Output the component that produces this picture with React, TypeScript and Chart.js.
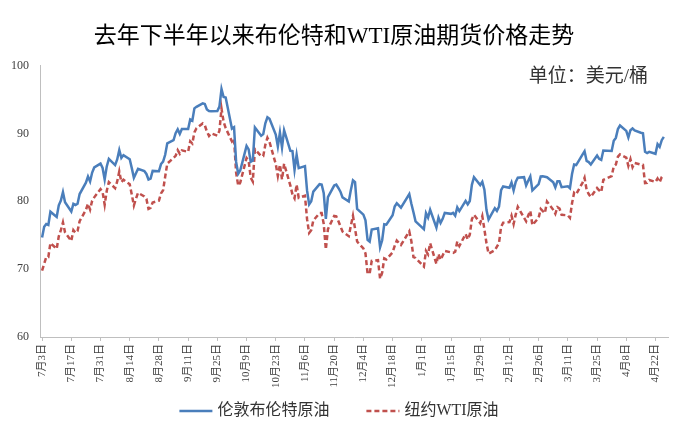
import React, { useEffect, useRef } from "react";
import { Chart, registerables } from "chart.js";

Chart.register(...registerables);

const FONT = "'Liberation Serif', 'Noto Sans CJK SC', serif";

const titleText = "去年下半年以来布伦特和WTI原油期货价格走势";
const unitText = "单位：美元/桶";
const seriesNames = ["伦敦布伦特原油", "纽约WTI原油"];

const tickLabels = [
  "7月3日", "7月17日", "7月31日", "8月14日", "8月28日", "9月11日", "9月25日",
  "10月9日", "10月23日", "11月6日", "11月20日", "12月4日", "12月18日",
  "1月1日", "1月15日", "1月29日", "2月12日", "2月26日", "3月11日", "3月25日",
  "4月8日", "4月22日",
];

const yTicks = [60, 70, 80, 90, 100];

// trading days (month-day); Jul-Dec are 2023, Jan-Apr are 2024
const dates = [
  "07-03", "07-04", "07-05", "07-06", "07-07",
  "07-10", "07-11", "07-12", "07-13", "07-14",
  "07-17", "07-18", "07-19", "07-20", "07-21",
  "07-24", "07-25", "07-26", "07-27", "07-28",
  "07-31", "08-01", "08-02", "08-03", "08-04",
  "08-07", "08-08", "08-09", "08-10", "08-11",
  "08-14", "08-15", "08-16", "08-17", "08-18",
  "08-21", "08-22", "08-23", "08-24", "08-25",
  "08-28", "08-29", "08-30", "08-31", "09-01",
  "09-04", "09-05", "09-06", "09-07", "09-08",
  "09-11", "09-12", "09-13", "09-14", "09-15",
  "09-18", "09-19", "09-20", "09-21", "09-22",
  "09-25", "09-26", "09-27", "09-28", "09-29",
  "10-02", "10-03", "10-04", "10-05", "10-06",
  "10-09", "10-10", "10-11", "10-12", "10-13",
  "10-16", "10-17", "10-18", "10-19", "10-20",
  "10-23", "10-24", "10-25", "10-26", "10-27",
  "10-30", "10-31", "11-01", "11-02", "11-03",
  "11-06", "11-07", "11-08", "11-09", "11-10",
  "11-13", "11-14", "11-15", "11-16", "11-17",
  "11-20", "11-21", "11-22", "11-23", "11-24",
  "11-27", "11-28", "11-29", "11-30", "12-01",
  "12-04", "12-05", "12-06", "12-07", "12-08",
  "12-11", "12-12", "12-13", "12-14", "12-15",
  "12-18", "12-19", "12-20", "12-21", "12-22",
  "12-25", "12-26", "12-27", "12-28", "12-29",
  "01-01", "01-02", "01-03", "01-04", "01-05",
  "01-08", "01-09", "01-10", "01-11", "01-12",
  "01-15", "01-16", "01-17", "01-18", "01-19",
  "01-22", "01-23", "01-24", "01-25", "01-26",
  "01-29", "01-30", "01-31", "02-01", "02-02",
  "02-05", "02-06", "02-07", "02-08", "02-09",
  "02-12", "02-13", "02-14", "02-15", "02-16",
  "02-19", "02-20", "02-21", "02-22", "02-23",
  "02-26", "02-27", "02-28", "02-29", "03-01",
  "03-04", "03-05", "03-06", "03-07", "03-08",
  "03-11", "03-12", "03-13", "03-14", "03-15",
  "03-18", "03-19", "03-20", "03-21", "03-22",
  "03-25", "03-26", "03-27", "03-28", "03-29",
  "04-01", "04-02", "04-03", "04-04", "04-05",
  "04-08", "04-09", "04-10", "04-11", "04-12",
  "04-15", "04-16", "04-17", "04-18", "04-19",
  "04-22", "04-23", "04-24", "04-25", "04-26",
];

const brent = [
  74.65, 76.25, 76.65, 76.52, 78.47,
  77.69, 79.40, 80.11, 81.36, 79.87,
  78.50, 79.63, 79.46, 79.64, 81.07,
  82.74, 83.64, 82.92, 84.24, 84.99,
  85.56, 84.91, 83.20, 85.14, 86.24,
  85.34, 86.17, 87.55, 86.40, 86.81,
  86.21, 84.89, 83.45, 84.12, 84.80,
  84.46, 84.03, 83.21, 83.36, 84.48,
  84.42, 85.49, 85.86, 86.86, 88.55,
  89.00, 90.04, 90.60, 89.92, 90.65,
  90.64, 92.06, 91.88, 93.70, 93.93,
  94.43, 94.34, 93.53, 93.30, 93.27,
  93.29, 93.96, 96.55, 95.38, 95.31,
  90.71, 90.92, 85.81, 84.07, 84.58,
  88.15, 87.65, 85.82, 86.00, 90.89,
  89.65, 89.90, 91.50, 92.38, 92.16,
  89.83, 88.07, 90.13, 87.93, 90.48,
  87.45, 87.41, 84.63, 86.85, 84.89,
  85.18, 81.61, 79.54, 80.01, 81.43,
  82.52, 82.47, 81.18, 77.42, 80.61,
  82.32, 82.45, 81.96, 81.42, 80.58,
  79.98, 81.68, 83.10, 82.83, 78.88,
  78.03, 77.20, 74.30, 74.05, 75.84,
  76.03, 73.24, 74.26, 76.61, 76.55,
  77.95, 79.23, 79.70, 79.39, 79.07,
  null, 81.07, 79.65, 78.39, 77.04,
  null, 75.89, 78.25, 77.59, 78.76,
  76.12, 77.59, 76.80, 77.41, 78.29,
  78.15, 78.29, 77.88, 79.10, 78.56,
  80.06, 79.55, 80.04, 82.43, 83.55,
  82.40, 82.87, 81.71, 78.70, 77.33,
  78.99, 78.59, 79.21, 81.63, 82.19,
  82.00, 82.77, 81.60, 82.86, 83.47,
  83.56, 82.34, 83.03, 83.67, 81.62,
  82.53, 83.65, 83.68, 83.62, 83.55,
  82.80, 82.04, 82.96, 82.96, 82.08,
  82.21, 81.92, 84.03, 85.42, 85.34,
  86.89, 87.38, 85.95, 85.78, 85.43,
  86.75, 86.25, 86.09, 87.48, null,
  87.42, 88.92, 89.35, 90.65, 91.17,
  90.38, 89.42, 90.48, 90.74, 90.45,
  90.10, 90.02, 87.29, 87.11, 87.29,
  87.00, 88.42, 88.02, 89.01, 89.50,
];

const wti = [
  69.79, null, 71.79, 71.80, 73.86,
  72.99, 74.83, 75.75, 76.89, 75.42,
  74.15, 75.75, 75.35, 75.63, 77.07,
  78.74, 79.63, 78.78, 80.09, 80.58,
  81.80, 81.37, 79.49, 81.55, 82.82,
  81.94, 82.92, 84.40, 82.82, 83.19,
  82.51, 80.99, 79.38, 80.39, 81.25,
  80.72, 80.35, 78.89, 79.05, 79.83,
  80.10, 81.16, 81.63, 83.63, 85.55,
  null, 86.69, 87.54, 87.01, 87.51,
  87.29, 88.84, 88.52, 90.16, 90.77,
  91.48, 91.20, 90.28, 89.63, 90.03,
  89.68, 90.39, 93.68, 91.71, 90.79,
  88.82, 89.23, 84.22, 82.31, 82.79,
  86.38, 85.97, 83.49, 82.91, 87.69,
  86.66, 86.66, 88.32, 89.37, 88.75,
  85.49, 83.74, 85.39, 83.21, 85.54,
  82.31, 81.02, 80.44, 82.46, 80.51,
  80.82, 77.37, 75.33, 75.74, 77.17,
  78.26, 78.26, 76.66, 72.90, 75.89,
  77.83, 77.77, 77.10, null, 75.54,
  74.86, 76.41, 77.86, 75.96, 74.07,
  73.04, 72.32, 69.38, 69.34, 71.23,
  71.32, 68.61, 69.47, 71.58, 71.43,
  72.47, 73.44, 74.22, 73.89, 73.56,
  null, 75.57, 74.11, 71.77, 71.65,
  null, 70.38, 72.70, 72.19, 73.81,
  70.77, 72.24, 71.37, 72.02, 72.68,
  null, 72.40, 72.56, 74.08, 73.41,
  75.19, 74.37, 75.09, 77.36, 78.01,
  76.78, 77.82, 75.85, 73.82, 72.28,
  72.78, 73.31, 73.86, 76.22, 76.84,
  76.92, 77.87, 76.64, 78.03, 79.19,
  null, 77.04, 77.91, 78.61, 76.49,
  77.58, 78.87, 78.54, 78.26, 79.97,
  78.74, 78.15, 79.13, 78.93, 78.01,
  77.93, 77.56, 79.72, 81.26, 81.04,
  82.72, 83.47, 81.68, 81.07, 80.63,
  81.95, 81.62, 81.35, 83.17, null,
  83.71, 85.15, 85.43, 86.59, 86.91,
  86.43, 85.23, 86.21, 85.02, 85.66,
  85.41, 85.36, 82.69, 82.73, 83.14,
  82.85, 83.36, 82.81, 83.57, 83.85,
];

const ORIGIN = Date.UTC(2023, 6, 3);
function dayOffset(month: number, day: number): number {
  const year = month >= 7 ? 2023 : 2024;
  return Math.round((Date.UTC(year, month - 1, day) - ORIGIN) / 86400000);
}
function dateToDay(md: string): number {
  const [m, d] = md.split("-").map(Number);
  return dayOffset(m, d);
}
function labelToDay(label: string): number {
  const m = label.match(/(\d+)月(\d+)日/);
  return m ? dayOffset(Number(m[1]), Number(m[2])) : 0;
}

const tickDays = tickLabels.map(labelToDay);

function toPoints(values: (number | null)[]) {
  return dates.map((d, i) => ({ x: dateToDay(d), y: values[i] }));
}

const unitPlugin = {
  id: "unitLabel",
  afterDraw(chart: any) {
    const { ctx, chartArea } = chart;
    ctx.save();
    ctx.font = `19px ${FONT}`;
    ctx.fillStyle = "#333333";
    ctx.textAlign = "right";
    ctx.textBaseline = "middle";
    ctx.fillText(unitText, chartArea.right - 20, chartArea.top + 11);
    ctx.restore();
  },
};

// legend drawn beneath the axis labels, styled from the datasets
const legendPlugin = {
  id: "bottomLegend",
  afterDraw(chart: any) {
    const { ctx } = chart;
    const lineLen = 33;
    const textGap = 5;
    const itemGap = 37;
    const y = 411;
    ctx.save();
    ctx.font = `16px ${FONT}`;
    const ds = chart.data.datasets;
    const widths = ds.map((d: any) => lineLen + textGap + ctx.measureText(d.label).width);
    const total = widths.reduce((a: number, b: number) => a + b, 0) + itemGap * (ds.length - 1);
    let x = 339 - total / 2;
    ds.forEach((d: any, i: number) => {
      ctx.beginPath();
      ctx.strokeStyle = d.borderColor;
      ctx.lineWidth = d.borderWidth;
      ctx.setLineDash(d.borderDash || []);
      ctx.moveTo(x, y);
      ctx.lineTo(x + lineLen, y);
      ctx.stroke();
      ctx.setLineDash([]);
      ctx.fillStyle = "#333333";
      ctx.textAlign = "left";
      ctx.textBaseline = "middle";
      ctx.fillText(d.label, x + lineLen + textGap, y);
      x += widths[i] + itemGap;
    });
    ctx.restore();
  },
};

export default function App() {
  const ref = useRef<HTMLCanvasElement>(null);

  useEffect(() => {
    if (!ref.current) return;
    const chart = new Chart(ref.current, {
      type: "line",
      data: {
        datasets: [
          {
            label: seriesNames[0],
            data: toPoints(brent) as any,
            borderColor: "#4a7ebb",
            backgroundColor: "#4a7ebb",
            borderWidth: 2.5,
            pointRadius: 0,
            tension: 0,
            spanGaps: true,
          },
          {
            label: seriesNames[1],
            data: toPoints(wti) as any,
            borderColor: "#c0504d",
            backgroundColor: "#c0504d",
            borderWidth: 2.5,
            borderDash: [5, 3],
            pointRadius: 0,
            tension: 0,
            spanGaps: true,
          },
        ],
      },
      options: {
        animation: false,
        responsive: true,
        maintainAspectRatio: false,
        layout: { padding: { left: 0, right: 9, top: 0, bottom: 0 } },
        plugins: {
          title: {
            display: true,
            text: titleText,
            color: "#000000",
            font: { family: FONT, size: 23, weight: "normal" },
            padding: { top: 23, bottom: 15 },
          },
          legend: { display: false },
          tooltip: { enabled: false },
        },
        scales: {
          x: {
            type: "linear",
            min: -1,
            max: 300,
            afterFit: (scale: any) => {
              scale.height = 106;
            },
            afterBuildTicks: (scale: any) => {
              scale.ticks = tickDays.map((v) => ({ value: v }));
            },
            ticks: {
              autoSkip: false,
              minRotation: 90,
              maxRotation: 90,
              padding: 3,
              color: "#404040",
              font: { family: FONT, size: 11 },
              callback: (value: any) => {
                const i = tickDays.indexOf(Number(value));
                return i >= 0 ? tickLabels[i] : "";
              },
            },
            grid: {
              drawOnChartArea: false,
              drawTicks: true,
              tickLength: 4,
              color: "#bfbfbf",
            },
            border: { display: true, color: "#bfbfbf", width: 1 },
          },
          y: {
            min: 60,
            max: 100,
            afterFit: (scale: any) => {
              scale.width = 40;
            },
            afterBuildTicks: (scale: any) => {
              scale.ticks = yTicks.map((v) => ({ value: v }));
            },
            ticks: {
              padding: 11,
              color: "#404040",
              font: { family: FONT, size: 12 },
            },
            grid: { display: false, drawTicks: false, tickLength: 0 },
            border: { display: true, color: "#bfbfbf", width: 1 },
          },
        },
      },
      plugins: [unitPlugin, legendPlugin],
    });
    return () => chart.destroy();
  }, []);

  return (
    <div
      style={{
        position: "fixed",
        left: 0,
        top: 0,
        width: 677,
        height: 443,
        background: "#ffffff",
      }}
    >
      <canvas ref={ref} />
    </div>
  );
}
